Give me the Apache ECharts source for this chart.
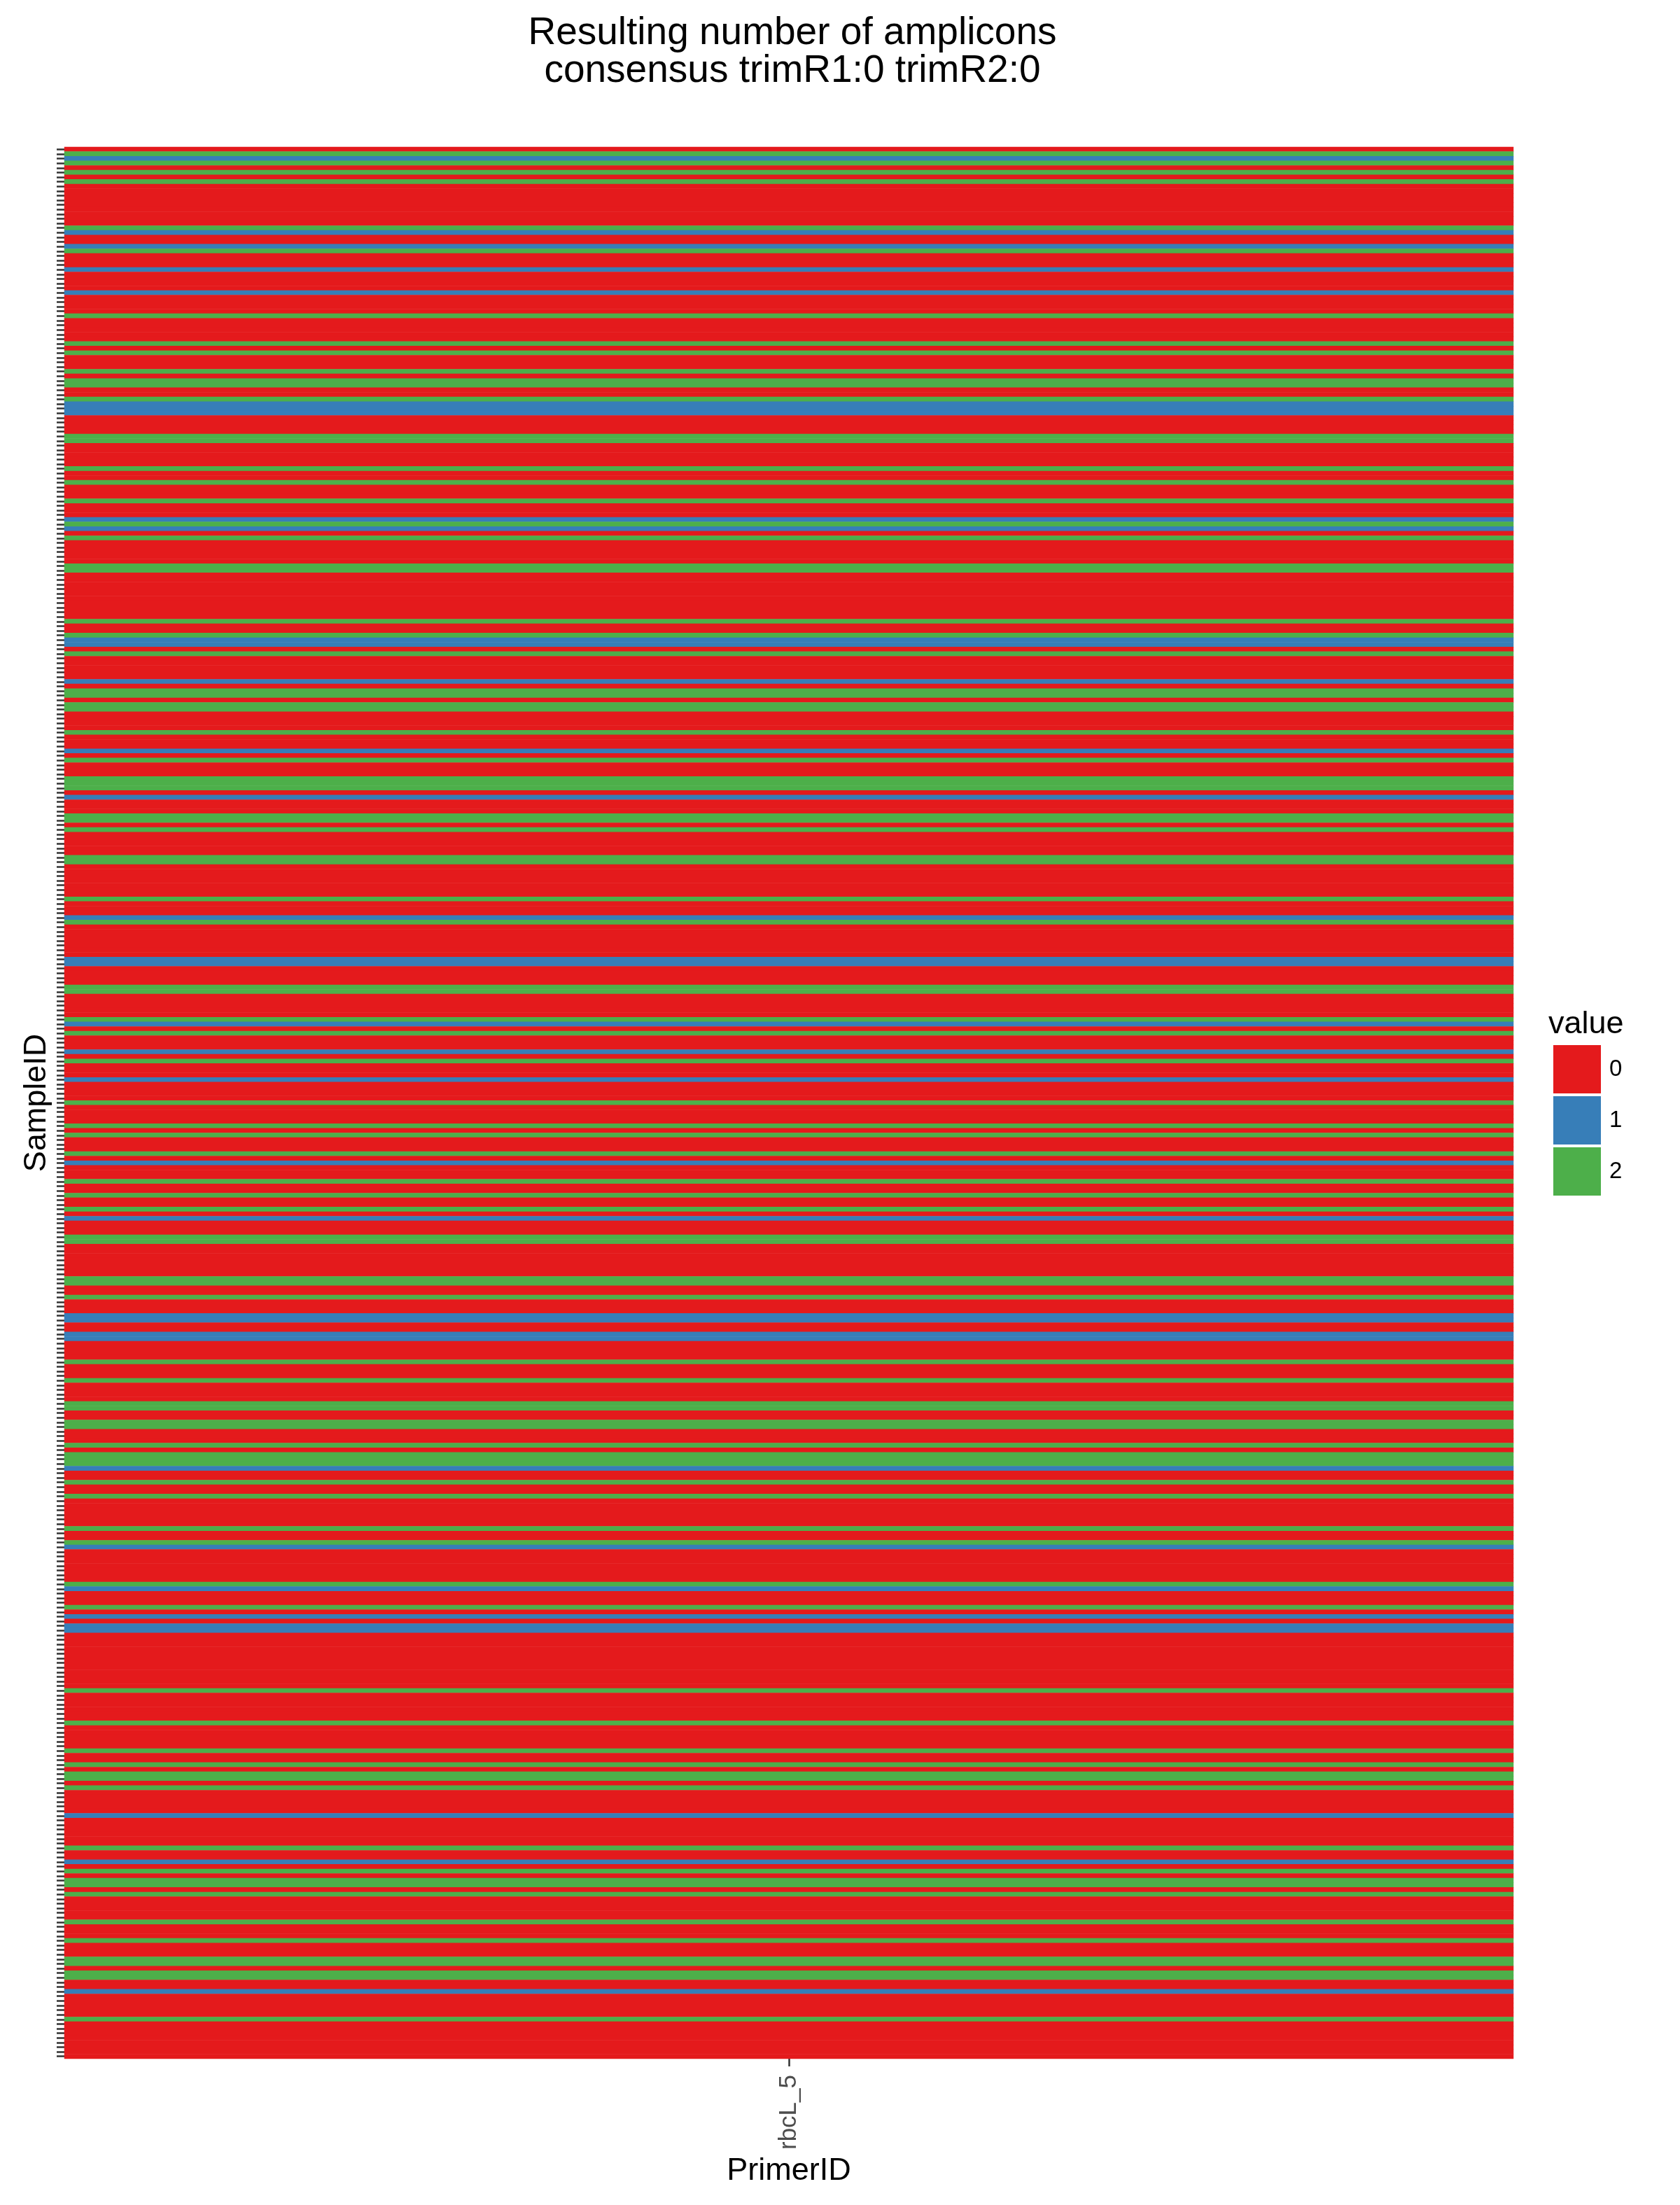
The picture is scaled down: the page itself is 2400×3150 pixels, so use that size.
<!DOCTYPE html>
<html>
<head>
  <meta charset="utf-8">
  <title>Resulting number of amplicons</title>
  <script src="https://cdn.jsdelivr.net/npm/echarts@6/dist/echarts.min.js"></script>
  <style>
    html, body { margin: 0; padding: 0; background: #ffffff; }
    #chart { width: 2400px; height: 3150px; }
  </style>
</head>
<body>
<div id="chart"></div>
<script>
  // one primer, many samples (sample labels are not printed on the axis)
  const primerIDs = ['rbcL_5'];
  const legendValues = ['0', '1', '2'];
  const legendColors = ['#E41A1C', '#377EB8', '#4DAF4A'];

  // number of amplicons per sample, listed from the top row down
  const cellValues = [
    0, 2, 1, 2, 0, 2, 0, 2, 0, 0,
    0, 0, 0, 0, 0, 0, 0, 2, 1, 0,
    0, 1, 2, 0, 0, 0, 1, 0, 0, 0,
    0, 1, 0, 0, 0, 0, 2, 0, 0, 0,
    0, 0, 2, 0, 2, 0, 0, 0, 2, 0,
    2, 2, 0, 0, 2, 1, 1, 1, 0, 0,
    0, 0, 2, 2, 0, 0, 0, 0, 0, 2,
    0, 0, 2, 0, 0, 0, 2, 0, 0, 0,
    1, 2, 1, 0, 2, 0, 0, 0, 0, 0,
    2, 2, 0, 0, 0, 0, 0, 0, 0, 0,
    0, 0, 2, 0, 0, 2, 1, 1, 0, 2,
    0, 0, 0, 0, 0, 1, 0, 2, 2, 0,
    2, 2, 0, 0, 0, 0, 2, 0, 0, 0,
    1, 0, 2, 0, 0, 0, 2, 2, 2, 0,
    1, 0, 0, 0, 2, 2, 0, 2, 0, 0,
    0, 0, 0, 2, 2, 0, 0, 0, 0, 0,
    0, 0, 2, 0, 0, 0, 1, 2, 0, 0,
    0, 0, 0, 0, 0, 1, 1, 0, 0, 0,
    0, 2, 2, 0, 0, 0, 0, 0, 2, 1,
    0, 2, 0, 0, 0, 1, 0, 2, 0, 0,
    0, 1, 0, 0, 0, 0, 2, 0, 0, 0,
    0, 2, 0, 2, 0, 0, 0, 2, 0, 1,
    0, 0, 0, 2, 0, 0, 2, 0, 0, 2,
    0, 1, 0, 0, 0, 2, 2, 0, 0, 0,
    0, 0, 0, 0, 2, 2, 0, 0, 2, 0,
    0, 0, 1, 1, 0, 0, 1, 1, 0, 0,
    0, 0, 2, 0, 0, 0, 2, 0, 0, 0,
    0, 2, 2, 0, 0, 2, 2, 0, 0, 0,
    2, 0, 2, 2, 2, 1, 0, 0, 2, 0,
    0, 2, 0, 0, 0, 0, 0, 0, 2, 0,
    0, 2, 1, 0, 0, 0, 0, 0, 0, 0,
    2, 1, 0, 0, 0, 2, 0, 1, 0, 1,
    1, 0, 0, 0, 0, 0, 0, 0, 0, 0,
    0, 0, 0, 2, 0, 0, 0, 0, 0, 0,
    2, 0, 0, 0, 0, 0, 2, 0, 0, 2,
    0, 2, 2, 0, 2, 0, 0, 0, 0, 0,
    1, 0, 0, 0, 0, 0, 0, 2, 0, 0,
    1, 0, 2, 0, 2, 2, 0, 2, 0, 0,
    0, 0, 0, 2, 0, 0, 0, 2, 0, 0,
    0, 2, 2, 0, 2, 2, 0, 0, 1, 0,
    0, 0, 0, 0, 2, 0, 0, 0, 0, 0,
    0, 0, 0
  ];

  const sampleIDs = cellValues.map((v, i) => 'sample_' + (i + 1));
  const heatData = cellValues.map((v, i) => [0, i, v]);

  const fontName = '"Liberation Sans", Arial, Helvetica, sans-serif';
  let myChart = echarts.init(document.getElementById('chart'), null, {renderer: 'canvas'});
  myChart.setOption({
    backgroundColor: '#ffffff',
    animation: false,
    title: [{
      text: 'Resulting number of amplicons\nconsensus trimR1:0 trimR2:0',
      left: 1127,
      top: 16,
      textAlign: 'center',
      textStyle: {
        fontFamily: fontName,
        fontSize: 55,
        fontWeight: 'normal',
        color: '#000000',
        lineHeight: 54
      }
    }, {
      text: 'value',
      left: 2207,
      top: 1436,
      textStyle: {
        fontFamily: fontName,
        fontSize: 45,
        fontWeight: 'normal',
        color: '#000000'
      }
    }],
    grid: {
      left: 92,
      right: 238,
      top: 210,
      bottom: 209,
      containLabel: false
    },
    xAxis: {
      type: 'category',
      data: primerIDs,
      name: 'PrimerID',
      nameLocation: 'middle',
      nameGap: 138,
      nameTextStyle: {
        fontFamily: fontName,
        fontSize: 45,
        color: '#000000'
      },
      axisLine: {show: false},
      axisTick: {
        show: true,
        alignWithLabel: true,
        length: 11,
        lineStyle: {color: '#333333', width: 2.5}
      },
      axisLabel: {
        rotate: 90,
        margin: 23,
        fontFamily: fontName,
        fontSize: 35,
        color: '#4d4d4d'
      },
      splitLine: {show: false}
    },
    yAxis: {
      type: 'category',
      data: sampleIDs,
      inverse: true,
      name: 'SampleID',
      nameLocation: 'middle',
      nameGap: 17,
      nameTextStyle: {
        fontFamily: fontName,
        fontSize: 45,
        color: '#000000'
      },
      axisLine: {show: false},
      axisTick: {
        show: true,
        interval: 0,
        alignWithLabel: true,
        length: 11,
        lineStyle: {color: '#333333', width: 2.5}
      },
      axisLabel: {show: false},
      splitLine: {show: false}
    },
    visualMap: {
      type: 'piecewise',
      dimension: 2,
      seriesIndex: 0,
      orient: 'vertical',
      inverse: true,
      align: 'left',
      left: 2204,
      top: 1478,
      itemWidth: 68,
      itemHeight: 69,
      itemGap: 4,
      itemSymbol: 'rect',
      textGap: 12,
      selectedMode: false,
      hoverLink: false,
      textStyle: {
        fontFamily: fontName,
        fontSize: 33,
        color: '#000000'
      },
      pieces: legendValues.map((label, i) => ({value: Number(label), label: label, color: legendColors[i]}))
    },
    series: [{
      name: 'value',
      type: 'heatmap',
      data: heatData,
      itemStyle: {borderWidth: 0},
      emphasis: {disabled: true}
    }]
  });
</script>
</body>
</html>
